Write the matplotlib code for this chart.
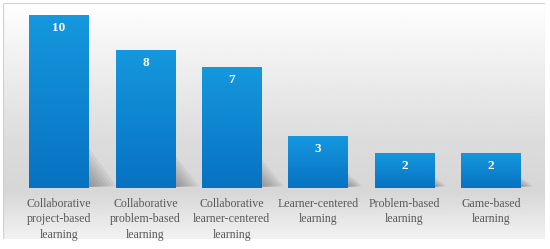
import matplotlib.pyplot as plt
import numpy as np
from matplotlib.patches import Polygon, Rectangle
from matplotlib.colors import LinearSegmentedColormap

categories = ["Collaborative\nproject-based\nlearning",
              "Collaborative\nproblem-based\nlearning",
              "Collaborative\nlearner-centered\nlearning",
              "Learner-centered\nlearning",
              "Problem-based\nlearning",
              "Game-based\nlearning"]
counts = [10, 8, 7, 3, 2, 2]

plt.rcParams['font.family'] = ['Liberation Serif', 'DejaVu Serif']

W, H = 550, 249
fig = plt.figure(figsize=(W / 100, H / 100), dpi=100)
fig.patch.set_facecolor("white")

# background panel with vertical grey gradient
bg = fig.add_axes([3 / W, 1 - 239 / H, 542 / W, 236 / H])
bg.set_axis_off()
ys = np.linspace(0, 1, 240)
# 0 = top, 1 = bottom
shade = np.interp(ys, [0, 0.25, 0.6, 0.8, 1.0], [1.0, 0.94, 0.86, 0.84, 0.95])
grad = np.tile(shade[:, None], (1, 2))
bg.imshow(grad, cmap="gray", vmin=0, vmax=1, aspect="auto",
          extent=[0, 1, 0, 1], interpolation="bilinear")
bg.add_patch(Rectangle((0, 0), 1, 1, fill=False, ec="#cfcfcf", lw=0.8,
                       transform=bg.transAxes))
bg.set_xlim(0, 1)
bg.set_ylim(0, 1)

# main axes: bars
ax = fig.add_axes([15.8 / W, 61 / H, 518.4 / W, 181.6 / H])
ax.set_axis_off()
ax.patch.set_alpha(0)

x = np.arange(len(counts))
width = 0.69

# soft shadows to the right of each bar
for xi, h in zip(x, counts):
    r = xi + width / 2
    sh = 0.22 * h + 0.25
    sw = 0.1 + 0.022 * h
    for k in range(7):
        f = 1 - k * 0.13
        poly = Polygon([(r - 0.02, 0.05), (r - 0.02, sh * f),
                        (r + sw * f, 0.1)],
                       closed=True, fc="#606060", ec="none", alpha=0.09)
        ax.add_patch(poly)

bars = ax.bar(x, counts, width=width, color="#0a86d0", zorder=3)

# blue gradient inside bars
bgrad = np.linspace(0, 1, 100)[:, None]
cmap = LinearSegmentedColormap.from_list("b", ["#0872c2", "#1598de"])
for b in bars:
    im = ax.imshow(bgrad, cmap=cmap, aspect="auto", origin="lower",
                   extent=[b.get_x(), b.get_x() + b.get_width(), 0, b.get_height()],
                   zorder=4)
    im.set_clip_path(b)
ax.set_xlim(-0.5, 5.5)
ax.set_ylim(0, 10.5)

for xi, h, lab in zip(x, counts, categories):
    ax.text(xi, h - 0.75, str(h), color="white", fontsize=9.5,
            fontweight="bold", ha="center", va="center", zorder=5)
    ax.text(xi, -0.55, lab, color="#595959",
            fontsize=8.6, ha="center", va="top", linespacing=1.4, zorder=5)

fig.savefig("out.png", dpi=100)
